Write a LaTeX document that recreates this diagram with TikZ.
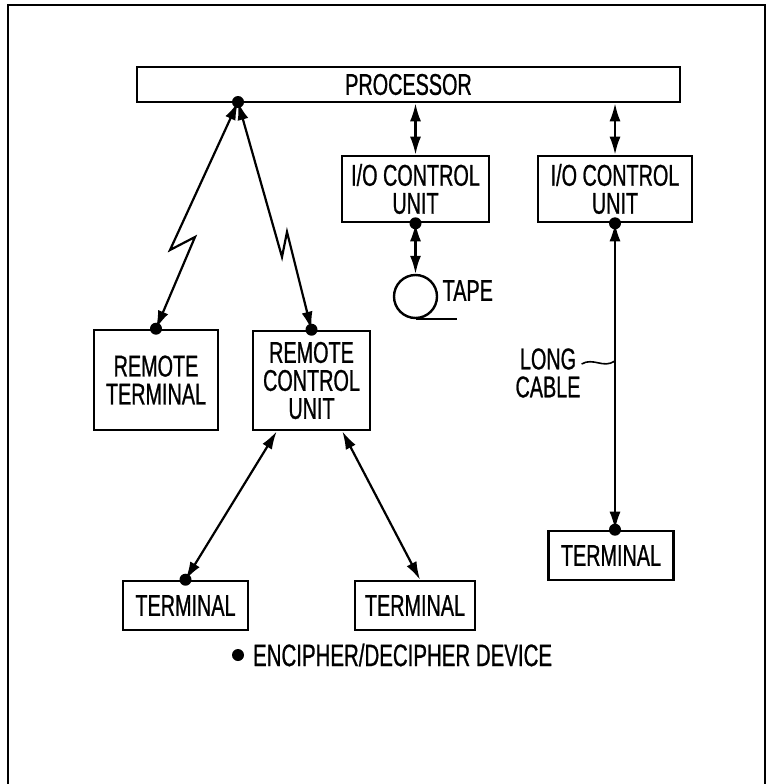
\documentclass[tikz,border=0pt]{standalone}
\usepackage{fontspec}
\setmainfont{Liberation Sans}[FakeStretch=0.66,FakeBold=0.8]
\usetikzlibrary{arrows.meta}
\newcommand{\crypt}[1]{\fill (#1) circle (6pt);}

\begin{document}
\begin{tikzpicture}[x=1pt,y=-1pt,line width=2.2pt,
  every node/.style={font=\fontsize{30}{28}\selectfont,align=center},
  unitbox/.style={draw,line width=2.6pt,inner sep=0pt},
  link/.style={{Latex[length=18pt,width=11pt]}-{Latex[length=18pt,width=11pt]}}]
  \useasboundingbox (0,0) rectangle (771,784);
  \draw[line width=2.2pt] (8,784) -- (8,5) -- (765,5) -- (765,784);
  \node[unitbox,minimum width=543pt,minimum height=35pt] (proc) at (408.5,84.5) {PROCESSOR};
  \node[unitbox,minimum width=147pt,minimum height=66pt] (io1) at (415.5,189) {I/O CONTROL\\UNIT};
  \node[unitbox,minimum width=154pt,minimum height=66pt] (io2) at (615,189) {I/O CONTROL\\UNIT};
  \node[unitbox,minimum width=124pt,minimum height=100pt] (rt) at (156,380) {REMOTE\\TERMINAL};
  \node[unitbox,minimum width=117pt,minimum height=99pt] (rcu) at (311.5,380.5) {REMOTE\\CONTROL\\UNIT};
  \node[unitbox,minimum width=125pt,minimum height=49pt] (t1) at (185.5,605.5) {TERMINAL};
  \node[unitbox,minimum width=120pt,minimum height=49pt] (t2) at (415,605.5) {TERMINAL};
  \node[unitbox,minimum width=125pt,minimum height=49pt] (t3) at (611,555.5) {TERMINAL};
  \node[draw,circle,line width=2.4pt,minimum size=43pt,inner sep=0pt] (tape) at (415.5,296.5) {};
  \node[right] (tapelbl) at ([yshift=6pt]tape.east) {TAPE};
  \node[inner sep=0pt] (cable) at (548,373) {LONG\\CABLE};
  \coordinate (pd) at (238,102);
  \coordinate (tap) at (615,361);
  \coordinate (t3d) at (io2.south |- t3.north);

  \draw[link] (pd) -- (170,250) -- (195,237) -- (rt.north);
  \draw[link] (pd) -- (282,257) -- (287,232) -- (rcu.north);
  \draw[link] (io1.north |- proc.south) -- (io1.north);
  \draw[link] (io2.north |- proc.south) -- (io2.north);
  \draw[link] (io1.south) -- (tape.north);
  \draw[line width=2.4pt] (tape.south) -- ++(41,0);
  \draw[link] (io2.south) -- (t3d);
  \draw[line width=1.6pt] ([yshift=9pt]cable.east) .. controls +(12,-7) and +(-12,8) .. (tap);
  \draw[link] ([xshift=25pt]rcu.south west) -- (t1.north);
  \draw[link] ([xshift=-29pt]rcu.south east) -- ([xshift=5pt]t2.north);

  \crypt{pd} \crypt{io1.south} \crypt{io2.south}
  \crypt{rt.north} \crypt{rcu.north} \crypt{t1.north} \crypt{t3d}

  \coordinate (key) at (238,655);
  \crypt{key}
  \node[right,inner sep=0pt,font=\fontsize{31}{31}\selectfont] (legend) at ([xshift=14pt]key) {ENCIPHER/DECIPHER DEVICE};
\end{tikzpicture}
\end{document}
